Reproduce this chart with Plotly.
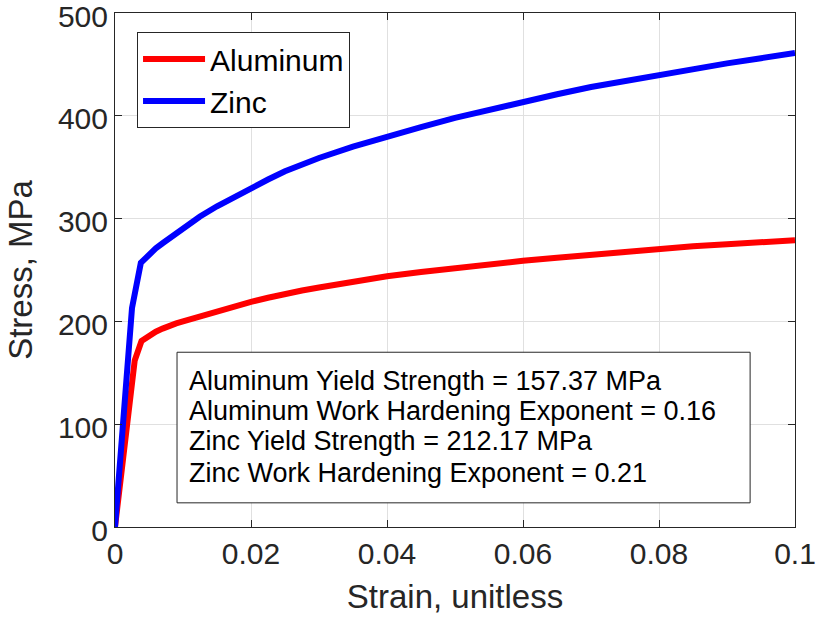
import plotly.graph_objects as go

# Stress-strain curves (strain unitless, stress in MPa)
strain_al = [0, 0.0029, 0.0039, 0.0045, 0.005, 0.006, 0.007, 0.008, 0.009, 0.01,
             0.0125, 0.015, 0.0175, 0.02, 0.0225, 0.025, 0.0275, 0.03, 0.035, 0.04,
             0.045, 0.05, 0.055, 0.06, 0.065, 0.07, 0.075, 0.08, 0.085, 0.09,
             0.095, 0.1]
stress_al = [0, 162, 181, 184, 186, 190, 193, 196, 198, 200,
             205, 210, 215, 219, 223, 227, 230, 233, 239, 244,
             248, 252, 256, 259, 262, 265, 268, 270, 273, 275,
             277, 279]

strain_zn = [0, 0.0025, 0.0038, 0.0045, 0.005, 0.006, 0.007, 0.008, 0.009, 0.01,
             0.0125, 0.015, 0.0175, 0.02, 0.0225, 0.025, 0.0275, 0.03, 0.035, 0.04,
             0.045, 0.05, 0.055, 0.06, 0.065, 0.07, 0.075, 0.08, 0.085, 0.09,
             0.095, 0.1]
stress_zn = [0, 213, 257, 262, 265, 271, 276, 281, 286, 291,
             302, 312, 321, 330, 338, 346, 353, 359, 370, 380,
             389, 398, 406, 414, 421, 428, 434, 440, 446, 451,
             456, 461]

x_ticks = [0, 0.02, 0.04, 0.06, 0.08, 0.1]
x_ticklabels = ["0", "0.02", "0.04", "0.06", "0.08", "0.1"]
y_ticks = [0, 100, 200, 300, 400, 500]

info_lines = [
    "Aluminum Yield Strength = 157.37 MPa",
    "Aluminum Work Hardening Exponent = 0.16",
    "Zinc Yield Strength = 212.17 MPa",
    "Zinc Work Hardening Exponent = 0.21",
]

FONT = "Liberation Sans, Arial, sans-serif"
AXC = "#262626"

fig = go.Figure()
fig.add_trace(go.Scatter(x=strain_al, y=stress_al, mode="lines", name="Aluminum",
                         line=dict(color="#ff0000", width=6)))
fig.add_trace(go.Scatter(x=strain_zn, y=stress_zn, mode="lines", name="Zinc",
                         line=dict(color="#0000ff", width=6)))

axis_common = dict(showline=True, linecolor=AXC, linewidth=1, mirror="ticks",
                   ticks="inside", ticklen=7, tickcolor=AXC,
                   showgrid=True, gridcolor="#e0e0e0", gridwidth=1,
                   zeroline=False, automargin=False, ticklabeloverflow="allow",
                   tickfont=dict(family=FONT, size=30, color=AXC))

fig.update_xaxes(range=[0, 0.1], tickvals=x_ticks, ticktext=x_ticklabels,
                 title=dict(text="Strain, unitless", font=dict(family=FONT, size=33, color=AXC)),
                 **axis_common)
fig.update_yaxes(range=[0, 500], tickvals=y_ticks, ticklabelshift=3,
                 title=dict(text="Stress, MPa", font=dict(family=FONT, size=33, color=AXC)),
                 **axis_common)

# Text box with material properties
box_x0, box_x1, box_y0, box_y1 = 0.0912, 0.934, 0.047, 0.340
fig.add_shape(type="rect", xref="paper", yref="paper",
              x0=box_x0, x1=box_x1, y0=box_y0, y1=box_y1,
              line=dict(color=AXC, width=1), fillcolor="white", layer="above")
line_y = [0.285, 0.2265, 0.1665, 0.106]
for txt, yy in zip(info_lines, line_y):
    fig.add_annotation(text=txt, xref="paper", yref="paper", x=0.1059, y=yy,
                       xanchor="left", yanchor="middle", showarrow=False,
                       font=dict(family=FONT, size=27, color="#000000"))

fig.update_layout(
    width=816, height=623,
    margin=dict(l=115, r=21, t=13, b=96),
    paper_bgcolor="white", plot_bgcolor="white",
    showlegend=True,
    legend=dict(x=0.0324, y=0.963, xanchor="left", yanchor="top",
                bgcolor="white", bordercolor=AXC, borderwidth=1,
                font=dict(family=FONT, size=30, color="#000000"),
                itemwidth=62, tracegroupgap=0),
)

fig.write_html("out.html")
